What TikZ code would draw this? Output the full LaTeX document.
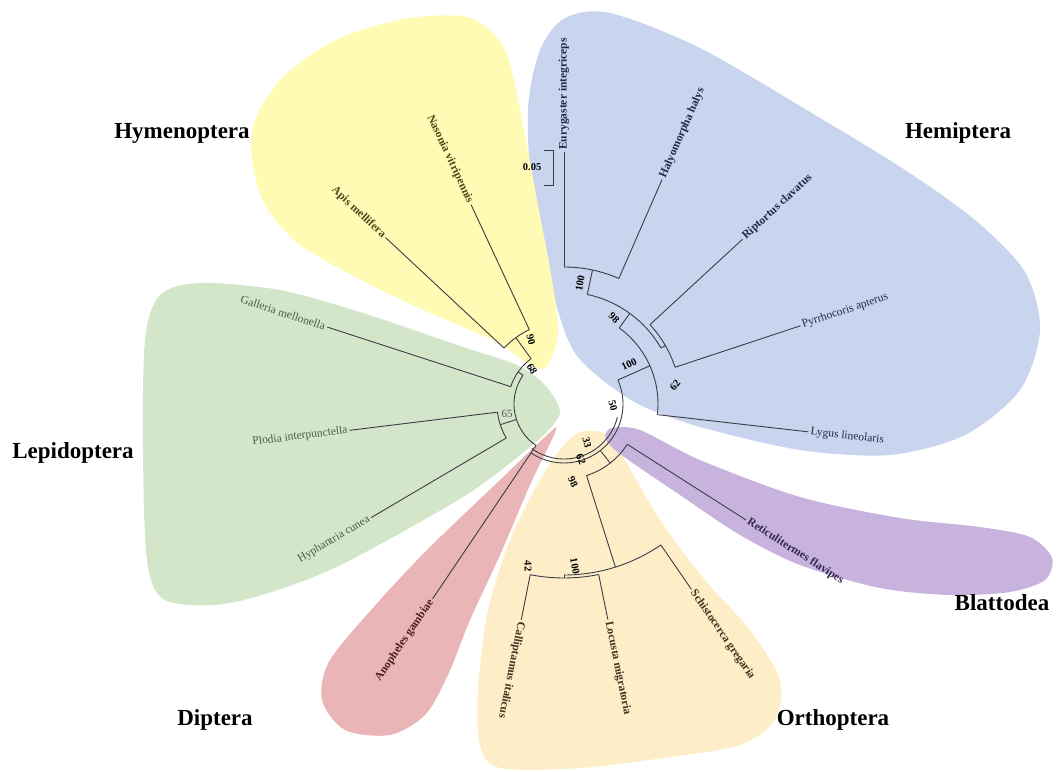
\documentclass[tikz,border=0pt]{standalone}
\usepackage{fontspec}
\setmainfont{Liberation Serif}
\usepackage{tikz}
\usetikzlibrary{positioning}
\definecolor{HemiBlue}{HTML}{C9D4EE}
\definecolor{HymeYellow}{HTML}{FFFBB5}
\definecolor{LepiGreen}{HTML}{D4E6CA}
\definecolor{BlatPurple}{HTML}{C7B3DD}
\definecolor{DiptRed}{HTML}{EAB5B6}
\definecolor{OrthPeach}{HTML}{FDEEC8}
\definecolor{TreeGray}{HTML}{3C3C46}
\definecolor{LabNavy}{HTML}{1F2A44}
\definecolor{LabOlive}{HTML}{4A4A1A}
\definecolor{LabGreen}{HTML}{4B5A4A}
\definecolor{LabPlum}{HTML}{35264F}
\definecolor{LabRed}{HTML}{4A1F1F}
\definecolor{LabBrown}{HTML}{3F3520}
\tikzset{
  branch/.style={draw=TreeGray, line width=0.9pt},
  leaf/.style={font=\fontsize{11.5}{12}\selectfont, inner sep=2pt},
  leafb/.style={leaf, font=\fontsize{11.5}{12}\selectfont\bfseries},
  boot/.style={font=\fontsize{10.5}{11}\selectfont\bfseries, inner sep=0.5pt},
  clade/.style={font=\fontsize{23}{26}\selectfont\bfseries}
}

\begin{document}
\begin{tikzpicture}[x=1pt, y=1pt]
\useasboundingbox (-564,-367) rectangle (495,404);
% clade backgrounds
\fill[HemiBlue] plot[smooth cycle] coordinates {(9,54) (-9,104) (-31,204) (-36,294) (-24,354) (1,386) (46,391) (136,356) (256,286) (341,234) (411,184) (461,132) (476,74) (456,14) (401,-31) (326,-51) (236,-46) (136,-23) (76,-1) (36,26)};
\fill[HymeYellow] plot[smooth cycle] coordinates {(-19,36) (-6,69) (-12,124) (-27,204) (-42,284) (-59,354) (-94,386) (-154,386) (-224,366) (-279,329) (-309,284) (-312,244) (-299,199) (-264,159) (-199,122) (-134,91) (-67,62) (-39,42)};
\fill[LepiGreen] plot[smooth cycle] coordinates {(-4,-6) (-19,19) (-47,39) (-101,57) (-201,91) (-284,114) (-364,121) (-404,109) (-419,64) (-421,-46) (-417,-156) (-399,-196) (-334,-199) (-234,-166) (-101,-93) (-34,-43) (-11,-21)};
\fill[DiptRed] plot[smooth cycle] coordinates {(-8,-26) (-34,-81) (-64,-151) (-94,-216) (-116,-271) (-139,-311) (-174,-331) (-219,-326) (-242,-296) (-234,-256) (-184,-196) (-134,-143) (-64,-76) (-19,-33)};
\fill[OrthPeach] plot[smooth cycle] coordinates {(16,-28) (39,-29) (56,-48) (96,-116) (141,-176) (186,-226) (216,-276) (211,-316) (176,-341) (106,-353) (16,-364) (-64,-364) (-84,-341) (-86,-286) (-76,-206) (-54,-136) (-24,-76) (-4,-46)};
\fill[BlatPurple] plot[smooth cycle] coordinates {(41,-33) (48,-24) (76,-26) (136,-56) (236,-93) (336,-114) (416,-123) (466,-133) (488,-154) (481,-176) (446,-188) (386,-191) (316,-184) (236,-161) (176,-131) (116,-91) (76,-64) (51,-46)};

% terminal branches
\foreach \nm/\a/\rb/\rt in {eury/90/137/252, haly/66.4/137/245, ript/42.7/117/243, pyrr/18.3/117/249, lygu/-6.5/94/246,
  reti/-32.5/75/216, schi/-55.5/171/225, locu/-78.5/174/220, call/-101.2/174/220,
  naso/115/82/220, apis/137/82/244, gall/162/56/249, plod/187/67/216, hyph/210.5/67/224, anop/236/50/235}{
  \coordinate (\nm-b) at (\a:\rb);
  \coordinate (\nm-t) at (\a:\rt);
  \draw[branch] (\nm-b) -- (\nm-t);
}
% internal branches
\foreach \nm/\a/\ri/\ro in {eh/78/112/137, rp/30/112/117, hx/54/94/112, hy/24/59/94,
  bo/-52/59/75, orth/-72.5/75/171, cl/-90/171/174,
  hym/126/56/82, hg/145/50/56, ph/198/50/67}{
  \coordinate (\nm-i) at (\a:\ri);
  \coordinate (\nm-o) at (\a:\ro);
  \draw[branch] (\nm-i) -- (\nm-o);
}
% arcs
\foreach \a/\b/\r in {66.4/90/137, 18.3/42.7/117, 30/78/112, -6.5/54/94,
  -124/24/59, -126/-14/55, 145/236/50,
  -72.5/-32.5/75, -90/-55.5/171, -101.2/-78.5/174,
  115/137/82, 126/162/56, 187/210.5/67}
  \draw[branch] (\a:\r) arc[start angle=\a, end angle=\b, radius=\r];

% scale bar
\coordinate (sb-top) at (-11,254);
\coordinate (sb-bot) at (-11,219);
\draw[branch] ([xshift=-9pt]sb-top) -- (sb-top) -- (sb-bot) -- ([xshift=-9pt]sb-bot);
\node[boot, anchor=east] (sb) at (-22,237) {0.05};

% taxa
\node[leafb, anchor=west, rotate=90, text=LabNavy] (eury) at (eury-t) {Eurygaster integriceps};
\node[leafb, anchor=west, rotate=66.4, text=LabNavy] (haly) at (haly-t) {Halyomorpha halys};
\node[leafb, anchor=west, rotate=42.7, text=LabNavy] (ript) at (ript-t) {Riptortus clavatus};
\node[leaf, anchor=west, rotate=18.3, text=LabNavy] (pyrr) at (pyrr-t) {Pyrrhocoris apterus};
\node[leaf, anchor=west, rotate=-6.5, text=LabNavy] (lygu) at (lygu-t) {Lygus lineolaris};
\node[leafb, anchor=west, rotate=-32.5, text=LabPlum] (reti) at (reti-t) {Reticulitermes flavipes};
\node[leafb, anchor=west, rotate=-55.5, text=LabBrown] (schi) at (schi-t) {Schistocerca gregaria};
\node[leafb, anchor=west, rotate=-78.5, text=LabBrown] (locu) at (locu-t) {Locusta migratoria};
\node[leafb, anchor=west, rotate=-101.2, text=LabBrown] (call) at (call-t) {Calliptamus italicus};
\node[leafb, anchor=east, rotate=-65, text=LabOlive] (naso) at (naso-t) {Nasonia vitripennis};
\node[leafb, anchor=east, rotate=-43, text=LabOlive] (apis) at (apis-t) {Apis mellifera};
\node[leaf, anchor=east, rotate=-18, text=LabGreen] (gall) at (gall-t) {Galleria mellonella};
\node[leaf, anchor=east, rotate=7, text=LabGreen] (plod) at (plod-t) {Plodia interpunctella};
\node[leaf, anchor=east, rotate=30.5, text=LabGreen] (hyph) at (hyph-t) {Hyphantria cunea};
\node[leafb, anchor=east, rotate=56, text=LabRed] (anop) at (anop-t) {Anopheles gambiae};

% bootstrap values
\node[boot, rotate=80] (bs-eh) at (16,121) {100};
\node[boot, rotate=-45] (bs-hx) at (50,86) {98};
\node[boot, rotate=25] (bs-hy) at (65,40) {100};
\node[boot, rotate=50] (bs-rp) at (111,19) {62};
\node[boot, rotate=-75] (bs-root) at (49,-2) {50};
\node[boot, rotate=-75] (bs-hym) at (-33,64) {90};
\node[boot, rotate=-60] (bs-hg) at (-32,35) {68};
\node[boot, font=\fontsize{11}{12}\selectfont, text=black!65] (bs-ph) at (-57,-10) {65};
\node[boot, rotate=-75] (bs-bo) at (23,-39) {33};
\node[boot, rotate=-70] (bs-or) at (17,-55) {62};
\node[boot, rotate=-65] (bs-orth) at (9,-78) {98};
\node[boot, rotate=-90] (bs-cl) at (-36,-162) {42};
\node[boot, rotate=-80] (bs-lo) at (11,-162) {100};

% orders
\node[clade] (hymeno) at (-382,271) {Hymenoptera};
\node[clade] (hemi) at (394,271) {Hemiptera};
\node[clade] (lepido) at (-491,-49) {Lepidoptera};
\node[clade] (blatto) at (438,-199) {Blattodea};
\node[clade] (dipt) at (-349,-316) {Diptera};
\node[clade] (ortho) at (269,-316) {Orthoptera};
\end{tikzpicture}
\end{document}
